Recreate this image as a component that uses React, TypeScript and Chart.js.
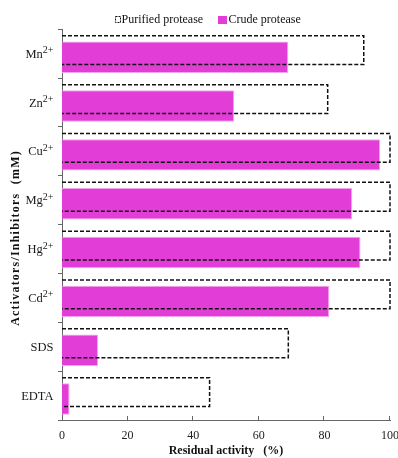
import { useEffect, useRef } from 'react';
import { Chart, registerables } from 'chart.js';

Chart.register(...registerables);

// ---- data ----
const categoryBase = ['Mn', 'Zn', 'Cu', 'Mg', 'Hg', 'Cd', 'SDS', 'EDTA'];
const categorySup = ['2+', '2+', '2+', '2+', '2+', '2+', '', ''];
const purifiedValues = [92, 81, 100, 100, 100, 100, 69, 45];
const crudeValues = [69, 52.5, 97, 88.5, 91, 81.5, 11, 2.3];
const xTickValues = [0, 20, 40, 60, 80, 100];
const seriesNames = ['Purified protease', 'Crude protease'];
const yTitle = 'Activators/Inhibitors  (mM)';
const xTitle = 'Residual activity   (%)';

const supMap: Record<string, string> = { '2': '\u00B2', '+': '\u207A' };
const categories = categoryBase.map(
  (b, i) => b + categorySup[i].split('').map((c) => supMap[c] || c).join('')
);

const MAGENTA = '#E23DD6';
const SERIF = '"Liberation Serif", "Times New Roman", serif';

const customPlugin = {
  id: 'customDraw',
  afterDatasetsDraw(chart: any) {
    const ctx = chart.ctx as CanvasRenderingContext2D;
    const meta = chart.getDatasetMeta(0);
    ctx.save();
    ctx.strokeStyle = '#111';
    ctx.lineWidth = 1.5;
    ctx.setLineDash([4, 2]);
    meta.data.forEach((el: any) => {
      const { x, y, base, height } = el.getProps(['x', 'y', 'base', 'height'], true);
      const top = y - height / 2;
      const bottom = y + height / 2;
      ctx.beginPath();
      ctx.moveTo(base, top);
      ctx.lineTo(x, top);
      ctx.lineTo(x, bottom);
      ctx.lineTo(base, bottom);
      ctx.stroke();
    });
    ctx.restore();
  },
  afterDraw(chart: any) {
    const ctx = chart.ctx as CanvasRenderingContext2D;
    const yScale = chart.scales.y;
    const xScale = chart.scales.x;
    const area = chart.chartArea;

    // y category labels with superscripts
    ctx.save();
    ctx.fillStyle = '#1a1a1a';
    ctx.textBaseline = 'alphabetic';
    ctx.textAlign = 'left';
    const rightX = 53.5;
    categoryBase.forEach((b, i) => {
      const yc = yScale.getPixelForValue(i);
      const sup = categorySup[i];
      ctx.font = `10px ${SERIF}`;
      const supW = sup ? ctx.measureText(sup).width : 0;
      ctx.font = `12.5px ${SERIF}`;
      const baseW = ctx.measureText(b).width;
      const startX = rightX - supW - baseW;
      ctx.fillText(b, startX, yc + 4);
      if (sup) {
        ctx.font = `10px ${SERIF}`;
        ctx.fillText(sup, startX + baseW, yc - 0.5);
      }
    });
    ctx.restore();

    // inward x tick marks
    ctx.save();
    ctx.strokeStyle = '#666';
    ctx.lineWidth = 1;
    xTickValues.forEach((v) => {
      if (v === 0) return;
      const x = Math.round(xScale.getPixelForValue(v)) - 0.5;
      ctx.beginPath();
      ctx.moveTo(x, area.bottom);
      ctx.lineTo(x, area.bottom - 4);
      ctx.stroke();
    });
    ctx.restore();

    // y title
    ctx.save();
    ctx.translate(16, 238);
    ctx.rotate(-Math.PI / 2);
    ctx.font = `bold 12px ${SERIF}`;
    (ctx as any).letterSpacing = '1.2px';
    ctx.fillStyle = '#111';
    ctx.textAlign = 'center';
    ctx.textBaseline = 'middle';
    ctx.fillText(yTitle, 0, 0);
    ctx.restore();

    // legend
    ctx.save();
    ctx.font = `12px ${SERIF}`;
    ctx.fillStyle = '#111';
    ctx.textBaseline = 'middle';
    ctx.textAlign = 'left';
    ctx.strokeStyle = '#111';
    ctx.lineWidth = 1;
    ctx.setLineDash([2, 1]);
    ctx.strokeRect(115.5, 16.5, 5, 6);
    ctx.setLineDash([]);
    ctx.fillText(seriesNames[0], 121.5, 19.8);
    ctx.fillStyle = MAGENTA;
    ctx.fillRect(218, 16, 9, 8);
    ctx.fillStyle = '#111';
    ctx.fillText(seriesNames[1], 228.5, 19.8);
    ctx.restore();
  },
};

export default function App() {
  const canvasRef = useRef<HTMLCanvasElement | null>(null);

  useEffect(() => {
    if (!canvasRef.current) return;
    const chart = new Chart(canvasRef.current, {
      type: 'bar',
      data: {
        labels: categories,
        datasets: [
          {
            label: seriesNames[0],
            data: purifiedValues,
            backgroundColor: 'rgba(0,0,0,0)',
            borderWidth: 0,
            categoryPercentage: 0.286,
            barPercentage: 4.12,
          },
          {
            label: seriesNames[1],
            data: crudeValues,
            backgroundColor: MAGENTA,
            borderColor: '#F2A6EC',
            borderWidth: 1,
            categoryPercentage: 0.286,
            barPercentage: 4.5,
          },
        ],
      },
      options: {
        indexAxis: 'y',
        responsive: false,
        animation: false,
        devicePixelRatio: 1,
        events: [],
        layout: { padding: { top: 29.3, left: 0, right: 0, bottom: 0 } },
        plugins: {
          legend: { display: false },
          tooltip: { enabled: false },
        },
        scales: {
          x: {
            type: 'linear',
            min: 0,
            max: 100,
            afterFit: (scale: any) => {
              scale.height = 38;
              scale.paddingRight = 8;
              scale.paddingLeft = 0;
            },
            afterBuildTicks: (scale: any) => {
              scale.ticks = xTickValues.map((v) => ({ value: v }));
            },
            grid: { display: false, drawTicks: false },
            border: { display: true, color: '#666', width: 1 },
            ticks: {
              padding: 9,
              color: '#222',
              font: { family: SERIF, size: 12 },
            },
            title: {
              display: true,
              text: xTitle,
              color: '#111',
              font: { family: SERIF, size: 12, weight: 'bold' },
              padding: { top: 0, bottom: 0 },
            },
          },
          y: {
            type: 'category',
            offset: true,
            afterFit: (scale: any) => {
              scale.width = 62;
            },
            grid: {
              display: true,
              offset: true,
              drawOnChartArea: false,
              drawTicks: true,
              tickLength: 4,
              color: '#666',
            },
            border: { display: true, color: '#666', width: 1 },
            ticks: { display: false },
          },
        },
      },
      plugins: [customPlugin],
    } as any);
    return () => chart.destroy();
  }, []);

  return (
    <div style={{ position: 'absolute', left: 0, top: 0, width: 398, height: 458, background: '#fff' }}>
      <canvas ref={canvasRef} width={398} height={458} />
    </div>
  );
}
